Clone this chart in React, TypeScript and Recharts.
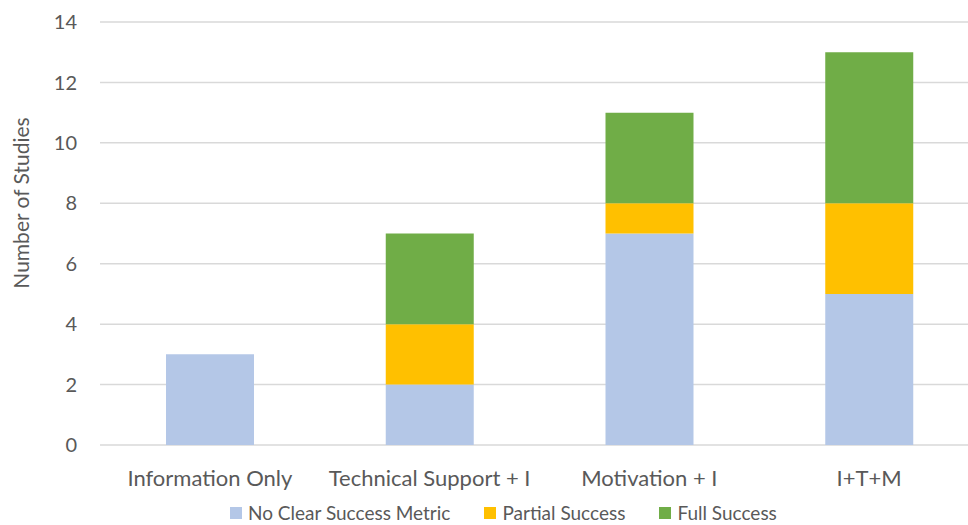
import React from 'react';
import { BarChart, Bar, XAxis, YAxis, CartesianGrid, Legend } from 'recharts';

const categories = ['Information Only', 'Technical Support + I', 'Motivation + I', 'I+T+M'];
const noClearMetric = [3, 2, 7, 5];
const partialSuccess = [0, 2, 1, 3];
const fullSuccess = [0, 3, 3, 5];
const yTicks = [0, 2, 4, 6, 8, 10, 12, 14];

const SERIES = [
  { key: 'noClear', name: 'No Clear Success Metric', color: '#b4c7e7' },
  { key: 'partial', name: 'Partial Success', color: '#ffc000' },
  { key: 'full', name: 'Full Success', color: '#70ad47' },
];

const data = categories.map((c, i) => ({
  category: c,
  noClear: noClearMetric[i],
  partial: partialSuccess[i],
  full: fullSuccess[i],
}));

const FONT = 'Lato, "Open Sans", sans-serif';
const TEXT = '#595959';

const renderLegend = () => (
  <div style={{ display: 'flex', alignItems: 'center', fontFamily: FONT, fontSize: 19, lineHeight: '19px', color: TEXT }}>
    {SERIES.map((s) => (
      <div key={s.key} style={{ display: 'flex', alignItems: 'center', marginRight: 34 }}>
        <span style={{ width: 12, height: 12, background: s.color, display: 'inline-block', marginRight: 6 }} />
        <span>{s.name}</span>
      </div>
    ))}
  </div>
);

// axis title sits a bit above the plot centre, like the original
const yTitle = () => (
  <text
    x={20}
    y={203}
    transform="rotate(-90 20 203)"
    textAnchor="middle"
    dominantBaseline="central"
    fill={TEXT}
    fontSize={21}
    fontFamily={FONT}
  >
    Number of Studies
  </text>
);

const App: React.FC = () => {
  return (
    <div style={{ position: 'absolute', left: 0, top: 0, width: 968, height: 525, overflow: 'hidden', background: '#fff' }}>
      <BarChart
        width={1000}
        height={525}
        data={data}
        margin={{ top: 22, right: 21, bottom: 0, left: 0 }}
      >
        <CartesianGrid vertical={false} stroke="#d9d9d9" strokeWidth={1.5} />
        <XAxis
          dataKey="category"
          axisLine={false}
          tickLine={false}
          height={61}
          tickMargin={19}
          tick={{ fill: TEXT, fontSize: 22, fontFamily: FONT }}
          interval={0}
        />
        <YAxis
          width={100}
          domain={[0, 14]}
          ticks={yTicks}
          axisLine={false}
          tickLine={false}
          tickSize={0}
          tickMargin={23}
          tick={{ fill: TEXT, fontSize: 20, fontFamily: FONT }}
          label={yTitle}
        />
        <Legend
          content={renderLegend}
          wrapperStyle={{ position: 'absolute', left: 230, top: 503, width: 'auto' }}
        />
        {SERIES.map((s) => (
          <Bar
            key={s.key}
            dataKey={s.key}
            name={s.name}
            stackId="a"
            fill={s.color}
            barSize={88}
            isAnimationActive={false}
          />
        ))}
      </BarChart>
    </div>
  );
};

export default App;
